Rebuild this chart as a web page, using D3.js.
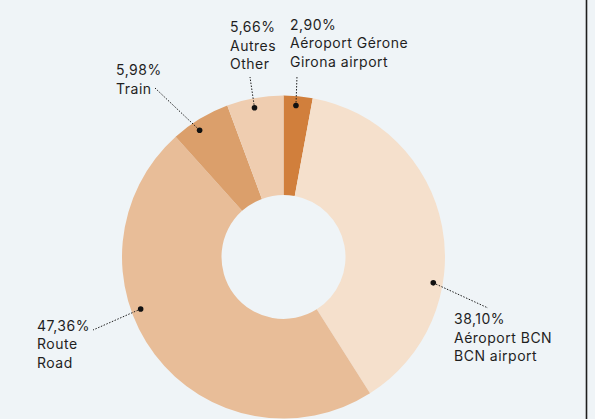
<!DOCTYPE html>
<html>
<head>
<meta charset="utf-8">
<script src="https://cdn.jsdelivr.net/npm/d3@7"></script>
<style>
  html, body { margin: 0; padding: 0; background: #eff4f7; }
  svg { display: block; }
  text { font-family: Inter, "Noto Sans", sans-serif; font-size: 14px; letter-spacing: 0.5px; fill: #1f1f1f; }
</style>
</head>
<body>
<svg id="chart" width="595" height="419"></svg>
<script>
// Modal split of passengers, clockwise from the top
const categories = ["Aéroport Gérone", "Aéroport BCN", "Route", "Train", "Autres"];
const categoriesEn = ["Girona airport", "BCN airport", "Road", "", "Other"];
const shares = [2.90, 38.10, 47.36, 5.98, 5.66];
const colors = ["#d17f3c", "#f5e0cc", "#e8bd98", "#db9f6b", "#efcdb0"];

// Callout layout: angle of the dot (deg, clockwise from 12 o'clock),
// end of the leader line and anchor of the text block (relative to centre)
const callouts = [
  { dotAngle: 4.7,   end: [13.5, -181],  text: [6.5, -227.5] },
  { dotAngle: 99.8,  end: [204.5, 51],   text: [170.5, 67] },
  { dotAngle: 250,   end: [-190.5, 73],  text: [-246.5, 73.5] },
  { dotAngle: -33.5, end: [-128.5, -169],text: [-167.5, -182] },
  { dotAngle: -11,   end: [-33.5, -180], text: [-53.5, -225] }
];

const svg = d3.select("#chart");
const H = 419;
const cx = 283.5, cy = 257, R = 161.5, r0 = 62, dotR = 152;

// right frame rule
svg.append("line")
  .attr("x1", 586.5).attr("x2", 586.5).attr("y1", 0).attr("y2", H)
  .attr("stroke", "#1e1e1e").attr("stroke-width", 1.6);

const g = svg.append("g").attr("transform", `translate(${cx},${cy})`);

const pie = d3.pie().sort(null).value(d => d)(shares);
const arc = d3.arc().innerRadius(r0).outerRadius(R);

g.selectAll("path.slice")
  .data(pie)
  .join("path")
  .attr("class", "slice")
  .attr("d", arc)
  .attr("fill", (d, i) => colors[i]);

const fmt = v => d3.format(".2f")(v).replace(".", ",") + "%";

callouts.forEach((c, i) => {
  const a = c.dotAngle * Math.PI / 180;
  const dx = dotR * Math.sin(a), dy = -dotR * Math.cos(a);
  g.append("line")
    .attr("x1", dx).attr("y1", dy)
    .attr("x2", c.end[0]).attr("y2", c.end[1])
    .attr("stroke", "#1f1f1f").attr("stroke-width", 1)
    .attr("stroke-dasharray", "1.5,1.5");
  g.append("circle")
    .attr("cx", dx).attr("cy", dy).attr("r", 2.8)
    .attr("fill", "#111");

  const lines = [fmt(shares[i]), categories[i]];
  if (categoriesEn[i]) lines.push(categoriesEn[i]);
  const t = g.append("text")
    .attr("x", c.text[0]).attr("y", c.text[1]);
  lines.forEach((s, k) => {
    t.append("tspan")
      .attr("x", c.text[0])
      .attr("dy", k === 0 ? 0 : 18.5)
      .text(s);
  });
});
</script>
</body>
</html>
